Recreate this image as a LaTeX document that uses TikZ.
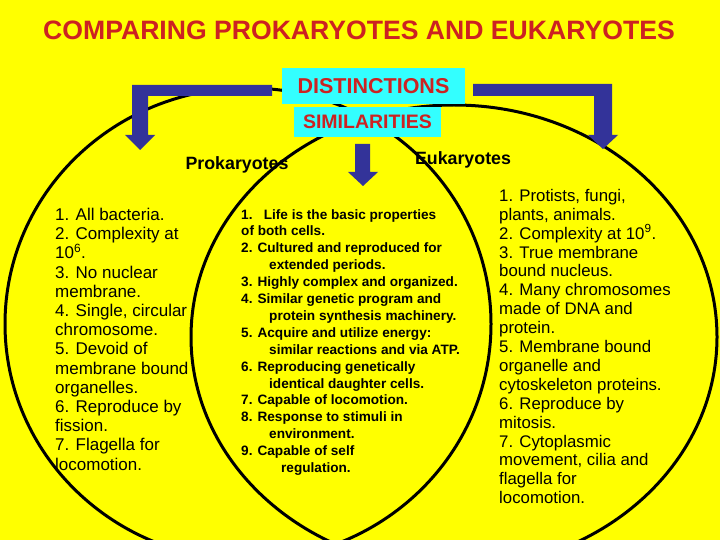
\documentclass[tikz,border=0pt]{standalone}
\usepackage{fontspec}
\setmainfont{Liberation Sans}
\begin{document}
\begin{tikzpicture}[x=1pt,y=-1pt,
  ring/.style={draw=black,line width=3pt},
  bluearrow/.style={fill=arrowblue,draw=none},
  cyanbox/.style={fill=boxcyan,draw=none,inner sep=0pt},
  lst/.style={anchor=north west,inner sep=0pt,align=left,text=black}]
\definecolor{bgyellow}{HTML}{FFFF00}
\definecolor{arrowblue}{HTML}{333399}
\definecolor{boxcyan}{HTML}{33FFFF}
\definecolor{titlered}{HTML}{CC2222}
\fill[bgyellow] (0,0) rectangle (720,540);
\useasboundingbox (0,0) rectangle (720,540);
\draw[ring] (248,324) ellipse [x radius=243, y radius=236];
\draw[ring] (454,337) ellipse [x radius=263, y radius=232];
\node[text=titlered,font=\bfseries\fontsize{26.6}{30}\selectfont] (title) at (359,30) {COMPARING PROKARYOTES AND EUKARYOTES};
\node[cyanbox,minimum width=183pt,minimum height=36pt,text=titlered,font=\bfseries\fontsize{21.5}{24}\selectfont] (dist) at (373.5,86) {DISTINCTIONS};
\node[cyanbox,minimum width=147pt,minimum height=30pt,text=titlered,font=\bfseries\fontsize{19.5}{22}\selectfont] (sim) at (367.5,122) {SIMILARITIES};
\fill[bluearrow] (272,85)--(132,85)--(132,135)--(125,135)--(140,150)--(155,135)--(148,135)--(148,96)--(272,96)--cycle;
\fill[bluearrow] (473,84)--(612,84)--(612,135)--(618,135)--(603,149)--(588,135)--(594,135)--(594,96)--(473,96)--cycle;
\fill[bluearrow] (355,144)--(370,144)--(370,172)--(378,172)--(363,186)--(348,172)--(355,172)--cycle;
\node[font=\bfseries\fontsize{17.8}{20}\selectfont] (pro) at (237,165) {Prokaryotes};
\node[font=\bfseries\fontsize{17.8}{20}\selectfont] (euk) at (463,160) {Eukaryotes};
\node[lst,font=\fontsize{17}{19.2}\selectfont] (left) at (55,208) {1. All bacteria.\\2. Complexity at\\10\textsuperscript{6}.\\3. No nuclear\\membrane.\\4. Single, circular\\chromosome.\\5. Devoid of\\membrane bound\\organelles.\\6. Reproduce by\\fission.\\7. Flagella for\\locomotion.};
\node[lst,font=\bfseries\fontsize{13.6}{16.9}\selectfont] (mid) at (241,209) {1.\ \ \ Life is the basic properties\\of both cells.\\2. Cultured and reproduced for\\\hspace*{28pt}extended periods.\\3. Highly complex and organized.\\4. Similar genetic program and\\\hspace*{28pt}protein synthesis machinery.\\5. Acquire and utilize energy:\\\hspace*{28pt}similar reactions and via ATP.\\6. Reproducing genetically\\\hspace*{28pt}identical daughter cells.\\7. Capable of locomotion.\\8. Response to stimuli in\\\hspace*{28pt}environment.\\9. Capable of self\\\hspace*{40pt}regulation.};
\node[lst,font=\fontsize{16.8}{18.9}\selectfont] (right) at (499,189) {1. Protists, fungi,\\plants, animals.\\2. Complexity at 10\textsuperscript{9}.\\3. True membrane\\bound nucleus.\\4. Many chromosomes\\made of DNA and\\protein.\\5. Membrane bound\\organelle and\\cytoskeleton proteins.\\6. Reproduce by\\mitosis.\\7. Cytoplasmic\\movement, cilia and\\flagella for\\locomotion.};
\end{tikzpicture}
\end{document}
